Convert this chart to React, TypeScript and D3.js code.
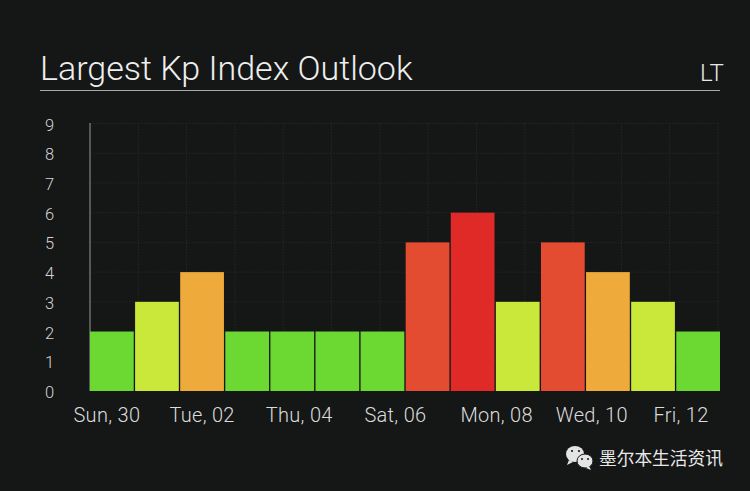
import React from "react";
import * as d3 from "d3";

const days = ["Sun, 30","Mon, 01","Tue, 02","Wed, 03","Thu, 04","Fri, 05","Sat, 06","Sun, 07","Mon, 08","Tue, 09","Wed, 10","Thu, 11","Fri, 12","Sat, 13"];
const kp = [2,3,4,2,2,2,2,5,6,3,5,4,3,2];
const yTicks = [0,1,2,3,4,5,6,7,8,9];
const tickLabels = ["Sun, 30","Tue, 02","Thu, 04","Sat, 06","Mon, 08","Wed, 10","Fri, 12"];
const tickNudge = [-5,0,7,13,24,29,28];
const gridCount = 14;

const W = 750, H = 491;
const x = d3.scaleBand<string>().domain(days).range([90, 720]).paddingInner(0.03).paddingOuter(0);
const y = d3.scaleLinear().domain([0, 9]).range([391, 123.5]);
const gridX = d3.scaleLinear().domain([0, gridCount - 1]).range([90, 718]);
const colour = (v: number) => v <= 2 ? "#6bd932" : v === 3 ? "#c9e83a" : v === 4 ? "#eeaa3b" : v === 5 ? "#e34c30" : "#df2a28";
const font = "Roboto, 'Liberation Sans', sans-serif";
const bg = "#151616";

export default function App() {
  return (
    <svg width={W} height={H} style={{ position: "absolute", left: 0, top: 0, background: bg }}>
      <text x={40} y={80} fontFamily={font} fontWeight={300} fontSize={34} fill="#eeeeee">Largest Kp Index Outlook</text>
      <text x={700} y={81} fontFamily={font} fontWeight={300} fontSize={24} fill="#e8e8e8">LT</text>
      <line x1={40} x2={720} y1={90.5} y2={90.5} stroke="#a8a8a8" strokeWidth={1} />

      {yTicks.slice(1).map(t => (
        <line key={t} x1={90} x2={720} y1={y(t)} y2={y(t)} stroke="#262728" strokeWidth={1} strokeDasharray="1.5 1.5" />
      ))}
      {d3.range(1, gridCount).map(i => (
        <line key={i} x1={gridX(i)} x2={gridX(i)} y1={123} y2={391} stroke="#262728" strokeWidth={1} strokeDasharray="1.5 1.5" />
      ))}
      <line x1={90} x2={90} y1={123} y2={391} stroke="#6e6e6e" strokeWidth={1.5} />

      {days.map((d, i) => (
        <rect key={d + i} x={x(d)} y={y(kp[i])} width={x.bandwidth()} height={y(0) - y(kp[i])} fill={colour(kp[i])} />
      ))}

      {yTicks.map(t => (
        <text key={t} x={49.5} y={y(t) + 7} textAnchor="middle" fontFamily={font} fontWeight={300} fontSize={16.5} fill="#d4d4d4">{t}</text>
      ))}
      {tickLabels.map((l, i) => (
        <text key={l} x={x(l)! + x.bandwidth() / 2 + tickNudge[i]} y={421.5} textAnchor="middle" fontFamily={font} fontWeight={300} fontSize={20} letterSpacing={0.3} fill="#dcdcdc">{l}</text>
      ))}

      <g fill="#e4e4e4">
        <ellipse cx={575} cy={454} rx={9} ry={8} />
        <path d="M569 460 l-2 5 l6 -3 z" />
        <ellipse cx={585} cy={461} rx={8} ry={7} stroke={bg} strokeWidth={1} />
        <path d="M589 466 l2 4 l-5 -2 z" />
      </g>
      <g fill={bg}>
        <circle cx={572} cy={451} r={1.1} /><circle cx={579} cy={451} r={1.1} />
        <circle cx={582} cy={459} r={1} /><circle cx={588} cy={459} r={1} />
      </g>
      <text x={599} y={464.5} fontFamily="'Noto Sans CJK SC', sans-serif" fontSize={17.7} fill="#e8e8e8">墨尔本生活资讯</text>
    </svg>
  );
}
